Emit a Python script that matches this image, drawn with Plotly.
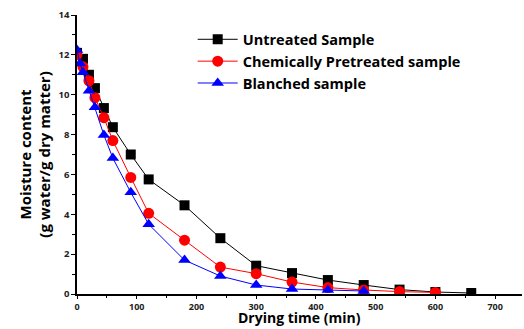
import plotly.graph_objects as go

t_untreated = [0, 10, 20, 30, 45, 60, 90, 120, 180, 240, 300, 360, 420, 480, 540, 600, 660]
m_untreated = [12.1, 11.8, 11.0, 10.33, 9.33, 8.37, 7.0, 5.75, 4.45, 2.8, 1.42, 1.05, 0.7, 0.45, 0.22, 0.1, 0.05]

t_chem = [0, 10, 20, 30, 45, 60, 90, 120, 180, 240, 300, 360, 420, 480, 540, 600]
m_chem = [12.0, 11.4, 10.7, 9.85, 8.85, 7.7, 5.85, 4.05, 2.7, 1.35, 1.02, 0.6, 0.32, 0.2, 0.12, 0.08]

t_blanch = [0, 5, 10, 20, 30, 45, 60, 90, 120, 180, 240, 300, 360, 420, 480]
m_blanch = [12.25, 11.57, 11.13, 10.2, 9.37, 7.98, 6.82, 5.1, 3.5, 1.7, 0.9, 0.45, 0.25, 0.2, 0.15]

names = ["Untreated Sample", "Chemically Pretreated sample", "Blanched sample"]
x_title = "Drying time (min)"
y_title = "Moisture content<br>(g water/g dry matter)"

fig = go.Figure()
fig.add_trace(go.Scatter(x=t_untreated, y=m_untreated, name=names[0], mode="lines+markers",
                         line=dict(color="black", width=1),
                         marker=dict(symbol="square", size=10, color="black")))
fig.add_trace(go.Scatter(x=t_chem, y=m_chem, name=names[1], mode="lines+markers",
                         line=dict(color="red", width=1),
                         marker=dict(symbol="circle", size=11, color="red")))
fig.add_trace(go.Scatter(x=t_blanch, y=m_blanch, name=names[2], mode="lines+markers",
                         line=dict(color="blue", width=1),
                         marker=dict(symbol="triangle-up", size=11, color="blue")))

font_fam = "Open Sans"
fig.update_layout(
    width=524, height=329,
    margin=dict(l=77, r=2, t=15, b=35, autoexpand=False),
    paper_bgcolor="white", plot_bgcolor="white",
    font=dict(family=font_fam, color="#222"),
    legend=dict(x=0.26, y=0.97, xanchor="left", yanchor="top",
                font=dict(size=14.5, family=font_fam, color="black", weight="bold"),
                bgcolor="rgba(0,0,0,0)", tracegroupgap=0, itemwidth=40),
    xaxis=dict(range=[0, 745], dtick=100, tick0=0, showgrid=False, zeroline=False,
               showline=True, linecolor="black", linewidth=1.5, automargin=False,
               ticks="outside", ticklen=3, tickcolor="black",
               minor=dict(dtick=50, ticks="outside", ticklen=2, tickcolor="black"),
               tickfont=dict(size=9, family=font_fam, color="#222", weight="bold")),
    yaxis=dict(range=[0, 14], dtick=2, tick0=0, showgrid=False, zeroline=False,
               showline=True, linecolor="black", linewidth=1.5, automargin=False,
               ticks="outside", ticklen=4, tickcolor="black",
               minor=dict(dtick=1, ticks="outside", ticklen=3, tickcolor="black"),
               tickfont=dict(size=9.5, family=font_fam, color="#222", weight="bold"),
               title=dict(text=y_title, standoff=4,
                          font=dict(size=15, family=font_fam, color="black", weight="bold"))),
    annotations=[dict(text=x_title, xref="paper", yref="paper", x=0.5, y=-0.1254,
                      xanchor="center", yanchor="bottom", showarrow=False,
                      font=dict(size=14, family=font_fam, color="black", weight="bold"))],
)

fig.write_html("out.html")
